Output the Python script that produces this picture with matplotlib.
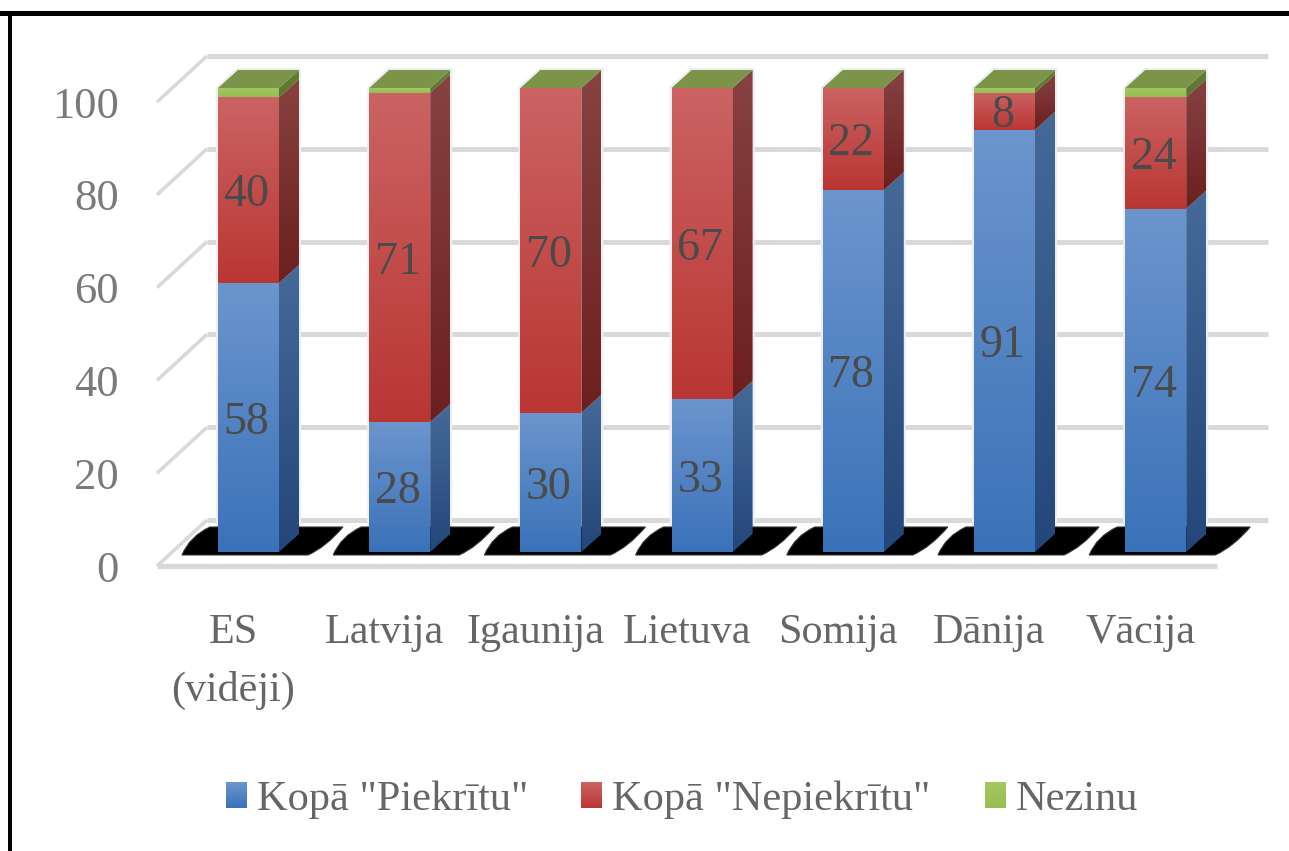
import numpy as np
import matplotlib
matplotlib.use("Agg")
import matplotlib.pyplot as plt
from matplotlib.patches import Polygon, PathPatch, Rectangle
from matplotlib.path import Path
from matplotlib.colors import LinearSegmentedColormap

categories = ["ES\n(vidēji)", "Latvija", "Igaunija", "Lietuva", "Somija", "Dānija", "Vācija"]
piekritu = [58, 28, 30, 33, 78, 91, 74]
nepiekritu = [40, 71, 70, 67, 22, 8, 24]
nezinu = [2, 1, 0, 0, 0, 1, 2]
series_names = ['Kopā "Piekrītu"', 'Kopā "Nepiekrītu"', 'Nezinu']
yticks = [0, 20, 40, 60, 80, 100]

plt.rcParams['font.family'] = ['Liberation Serif', 'DejaVu Serif']
W, H = 1289, 851
fig = plt.figure(figsize=(W / 100, H / 100), dpi=100)
ax = fig.add_axes([0, 0, 1, 1])
ax.axis('off')

# scales: pixels per category and per value
PX_CAT, PX_VAL, X0, Y0 = 151.2, 4.64, 248.5, 552.0
xlim = ((0 - X0) / PX_CAT, (W - X0) / PX_CAT)
ylim = ((Y0 - H) / PX_VAL, Y0 / PX_VAL)
dxc = lambda px: px / PX_CAT
dyv = lambda px: px / PX_VAL

BAR_W = dxc(61)
DX, DY = dxc(20), dyv(18)
WALL_FRONT = dyv(-14)
WALL_BACK = dyv(32)
WALL_X0 = dxc(157 - X0)
WALL_X1 = dxc(207 - X0)
WALL_X2 = dxc(1268 - X0)
FLOOR_X1 = dxc(1217 - X0)
GRID = '#d9d9d9'


def gradient(poly, c_top, c_bot, z):
    poly = np.asarray(poly)
    cmap = LinearSegmentedColormap.from_list('g', [c_top, c_bot])
    patch = Polygon(poly, closed=True, fc='none', ec='none', zorder=z)
    ax.add_patch(patch)
    im = ax.imshow(np.linspace(0, 1, 128).reshape(-1, 1), cmap=cmap, aspect='auto', zorder=z,
                   extent=(poly[:, 0].min(), poly[:, 0].max(), poly[:, 1].min(), poly[:, 1].max()),
                   origin='upper', interpolation='bilinear')
    im.set_clip_path(patch)


# walls and gridlines
for v in yticks:
    ax.plot([WALL_X0, WALL_X1], [v + WALL_FRONT, v + WALL_BACK], color=GRID, lw=2.6,
            solid_capstyle='butt', zorder=1)
    ax.plot([WALL_X1, WALL_X2], [v + WALL_BACK] * 2, color=GRID, lw=3.6, solid_capstyle='butt', zorder=1)
    ax.text(dxc(119 - X0), v + WALL_FRONT, str(v), ha='right', va='center_baseline', fontsize=32,
            color='#7a7a7a', zorder=6)
ax.plot([WALL_X0, FLOOR_X1], [WALL_FRONT] * 2, color=GRID, lw=3.8, solid_capstyle='butt', zorder=1)

# per-bar colours: front top, front bottom, side top, side bottom
BLUE = ('#6c95cd', '#3a72b9', '#456a98', '#24467a')
RED = ('#cb6363', '#b93633', '#874242', '#6c1f1f')
GREEN = ('#a2c85f', '#98bd55', '#647f35', '#5a752c')
TOP_GREEN = '#7b9449'

for i, cat in enumerate(categories):
    xl, xr = i - BAR_W / 2, i + BAR_W / 2
    # floor shadow
    verts = [(xl - dxc(36), dyv(-3)),
             (xl - dxc(28), dyv(16)), (xl - dxc(8), dyv(25)),
             (xl + dxc(125), dyv(25)),
             (xl + dxc(108), dyv(5)), (xl + dxc(90), dyv(-3)),
             (xl - dxc(36), dyv(-3))]
    codes = [Path.MOVETO, Path.CURVE3, Path.CURVE3, Path.LINETO, Path.CURVE3, Path.CURVE3, Path.CLOSEPOLY]
    ax.add_patch(PathPatch(Path(verts, codes), fc='black', ec='#333333', lw=0.8, zorder=2))
    # pale halo around the bar, behind the floor shadow
    total = piekritu[i] + nepiekritu[i] + nezinu[i]
    ax.add_patch(Polygon([(xl, 0), (xr, 0), (xr + DX, DY), (xr + DX, total + DY), (xl + DX, total + DY),
                          (xl, total)], closed=True, fc='#e6e6ea', ec='#eceef2', lw=3, zorder=1.5))
    bottom = 0
    for val, cols, lab in ((piekritu[i], BLUE, True), (nepiekritu[i], RED, True), (nezinu[i], GREEN, False)):
        if val == 0:
            continue
        top = bottom + val
        gradient([(xl, bottom), (xr, bottom), (xr, top), (xl, top)], cols[0], cols[1], 3)
        gradient([(xr, bottom), (xr + DX, bottom + DY), (xr + DX, top + DY), (xr, top)], cols[2], cols[3], 3)
        if lab:
            ax.text(i - dxc(2), bottom + val / 2, str(val), ha='center', va='center_baseline', fontsize=33,
                    color='#4a4a4a', zorder=5)
        bottom = top
    ax.add_patch(Polygon([(xl, total), (xr, total), (xr + DX, total + DY), (xl + DX, total + DY)],
                         closed=True, fc=TOP_GREEN, ec='none', zorder=4))
    # category label
    ax.text(i - dxc(15), dyv(-76), cat.split('\n')[0], ha='center', va='center_baseline', fontsize=30.3, color='#666666')
    if '\n' in cat:
        ax.text(i - dxc(15), dyv(-134), cat.split('\n')[1], ha='center', va='center_baseline', fontsize=30.3,
                color='#666666')

# legend
legend_x = [226, 581, 985]
legend_cols = [BLUE, RED, GREEN]
for px, name, cols in zip(legend_x, series_names, legend_cols):
    x0, x1 = dxc(px - X0), dxc(px + 21 - X0)
    y0, y1 = dyv(Y0 - 808), dyv(Y0 - 782)
    gradient([(x0, y0), (x1, y0), (x1, y1), (x0, y1)], cols[0], cols[1], 3)
    ax.text(dxc(px + 31 - X0), dyv(Y0 - 795), name, ha='left', va='center_baseline', fontsize=30.5, color='#666666')

# picture frame (top and left edges only)
ax.add_patch(Rectangle((xlim[0], dyv(Y0 - 16)), xlim[1] - xlim[0], dyv(5), fc='black', ec='none', zorder=8))
ax.add_patch(Rectangle((dxc(8 - X0), ylim[0]), dxc(4), dyv(Y0 - 11) - ylim[0], fc='black', ec='none', zorder=8))

ax.set_xlim(*xlim)
ax.set_ylim(*ylim)
fig.savefig('out.png', dpi=100)
